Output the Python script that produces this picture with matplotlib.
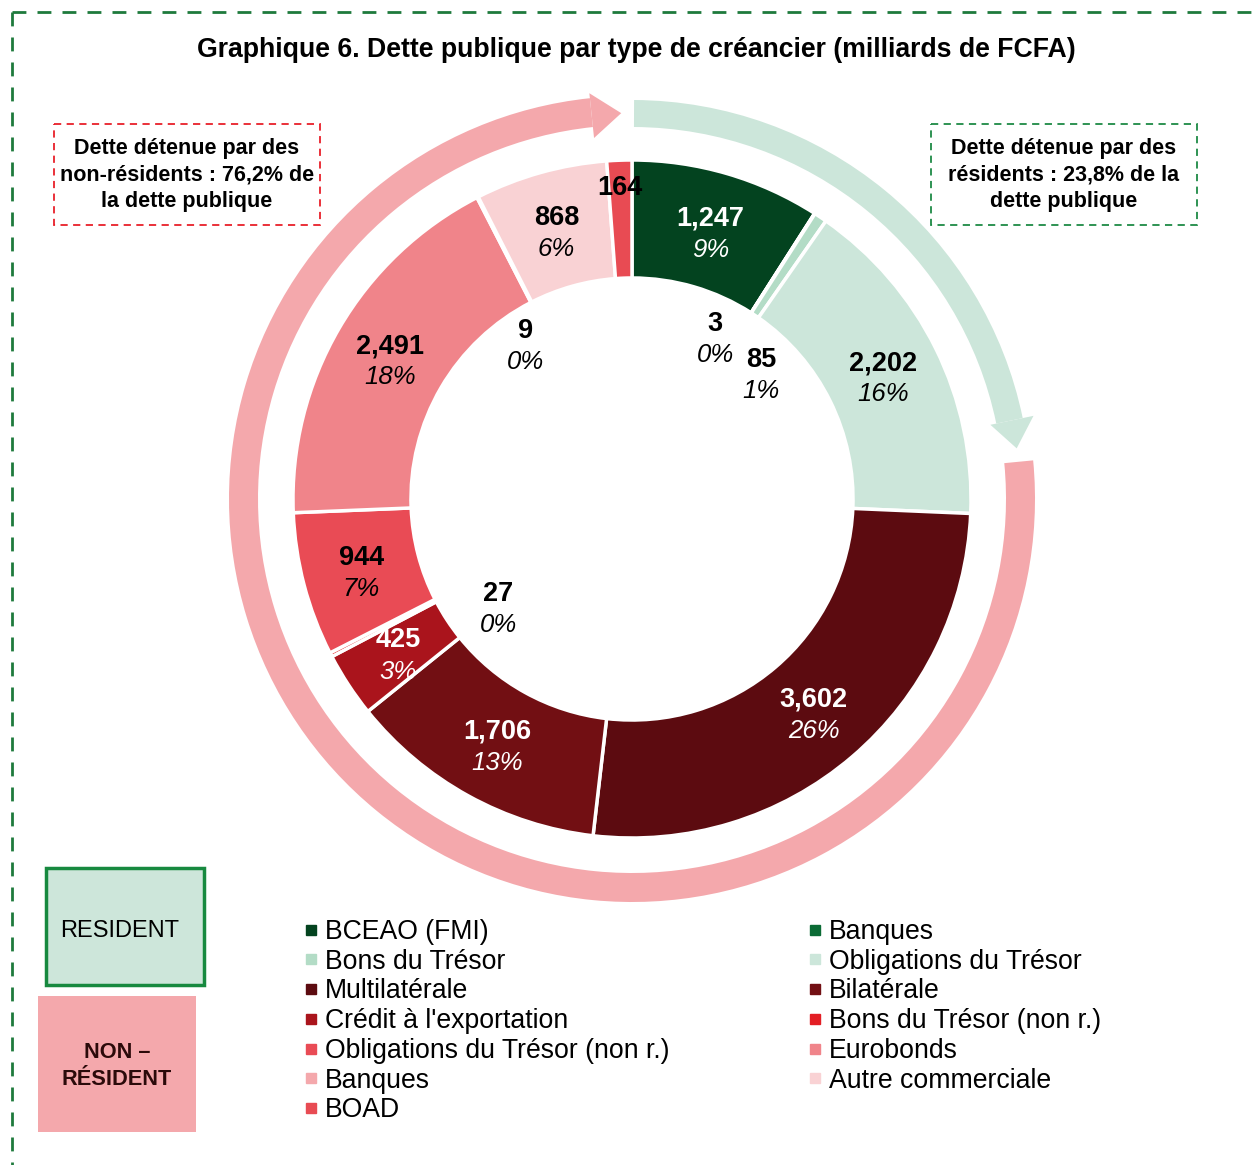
import numpy as np
import matplotlib
matplotlib.use("Agg")
import matplotlib.pyplot as plt
from matplotlib.patches import Wedge, Polygon, Rectangle
from matplotlib.lines import Line2D

plt.rcParams['font.family'] = ['Liberation Sans', 'DejaVu Sans']

# data, clockwise from 12 o'clock
categories = ['BCEAO (FMI)', 'Banques', 'Bons du Trésor', 'Obligations du Trésor',
              'Multilatérale', 'Bilatérale', "Crédit à l'exportation",
              'Bons du Trésor (non r.)', 'Obligations du Trésor (non r.)',
              'Eurobonds', 'Banques', 'Autre commerciale', 'BOAD']
values = [1247, 3, 85, 2202, 3602, 1706, 425, 27, 944, 2491, 9, 868, 164]
value_labels = ['1,247', '3', '85', '2,202', '3,602', '1,706', '425', '27',
                '944', '2,491', '9', '868', '164']
pct_labels = ['9%', '0%', '1%', '16%', '26%', '13%', '3%', '0%', '7%', '18%',
              '0%', '6%', '']

colors = ['#03431F', '#0B6B35', '#B3DCC6', '#CCE6DA', '#5C0B10', '#720F13',
          '#AA141C', '#E31E24', '#E94B55', '#F0848A', '#F4A8AC', '#F9D2D4',
          '#E84B53']
text_colors = ['white', 'black', 'black', 'black', 'white', 'white', 'white',
               'black', 'black', 'black', 'black', 'black', 'black']
# small slices get their labels moved (radius, clockwise angle in deg)
label_override = {1: (0.54, 27), 2: (0.534, 45.4), 7: (0.505, 231.4),
                  10: (0.557, 325.8), 12: (0.93, 357.8)}

W, H = 1255, 1165
fig = plt.figure(figsize=(W / 100, H / 100), dpi=100)

# background axes in pixel coords
bg = fig.add_axes([0, 0, 1, 1])
bg.set_xlim(0, W)
bg.set_ylim(H, 0)
bg.axis('off')

green_dash = '#1E7A3C'
bg.plot([12, W], [12, 12], color=green_dash, lw=2, ls=(0, (5, 4)))
bg.plot([12, 12], [12, H], color=green_dash, lw=2, ls=(0, (5, 4)))

bg.text(636, 50, 'Graphique 6. Dette publique par type de créancier (milliards de FCFA)',
        ha='center', va='center', fontsize=19.2, fontweight='bold')

bg.add_patch(Rectangle((54, 124), 266, 101, fill=False, ec='#E8202A', lw=1.3, ls=(0, (4, 3))))
bg.text(187, 175, 'Dette détenue par des\nnon-résidents : 76,2% de\nla dette publique',
        ha='center', va='center', fontsize=15.5, fontweight='bold', linespacing=1.32)
bg.add_patch(Rectangle((931, 124), 266, 101, fill=False, ec='#1E8A45', lw=1.3, ls=(0, (4, 3))))
bg.text(1064, 175, 'Dette détenue par des\nrésidents : 23,8% de la\ndette publique',
        ha='center', va='center', fontsize=15.5, fontweight='bold', linespacing=1.32)

bg.add_patch(Rectangle((46, 868), 158, 117, fc='#CDE6DA', ec='#17893F', lw=2.5))
bg.text(120, 931, 'RESIDENT', ha='center', va='center', fontsize=17)
bg.add_patch(Rectangle((38, 996), 158, 136, fc='#F4A8AC', ec='none'))
bg.text(117, 1066, 'NON –\nRÉSIDENT', ha='center', va='center', fontsize=15.7,
        fontweight='bold', color='#2B0A0A', linespacing=1.35)

# donut axes: 1 unit = S px
S = 339.0
cx, cy = 632, 499
L = 1.25
ax = fig.add_axes([(cx - L * S) / W, 1 - (cy + L * S) / H, 2 * L * S / W, 2 * L * S / H])
ax.axis('off')
ax.patch.set_alpha(0)

ax.pie(values, colors=colors, startangle=90, counterclock=False, radius=1,
       wedgeprops=dict(width=0.348, edgecolor='white', linewidth=2.5))
ax.set_xlim(-L, L)
ax.set_ylim(-L, L)
ax.set_aspect('auto')

total = sum(values)
cum = np.cumsum([0] + values)
for i in range(len(values)):
    mid = (cum[i] + cum[i + 1]) / 2 / total * 360
    r = 0.825
    if i in label_override:
        r, mid = label_override[i]
    x = r * np.sin(np.radians(mid))
    y = r * np.cos(np.radians(mid)) - 0.011
    d = 0.046 if pct_labels[i] else 0
    ax.text(x, y + d, value_labels[i], ha='center', va='center', fontsize=19.5,
            fontweight='bold', color=text_colors[i])
    if pct_labels[i]:
        ax.text(x, y - d, pct_labels[i], ha='center', va='center', fontsize=18.5,
                fontstyle='italic', color=text_colors[i])


def pol(r, a):
    a = np.radians(a)
    return (r * np.cos(a), r * np.sin(a))


# curved arrows around the donut (non-resident pink, resident green)
pink = '#F4A8AC'
ax.add_patch(Wedge((0, 0), 403 / S, 96.0, 365.5, width=29 / S, fc=pink, ec='none'))
ax.add_patch(Polygon([pol(408 / S, 96.0), pol(386 / S, 91.6), pol(363 / S, 96.0)],
                     fc=pink, ec='none'))
lgreen = '#CCE6DA'
ax.add_patch(Wedge((0, 0), 399 / S, 11.7, 89.7, width=27 / S, fc=lgreen, ec='none'))
ax.add_patch(Polygon([pol(410 / S, 11.7), pol(388 / S, 7.5), pol(366 / S, 11.7)],
                     fc=lgreen, ec='none'))

# legend, filled row-wise in two columns
handles = [Line2D([], [], marker='s', ls='', markersize=7.5, color=c) for c in colors]
left = list(range(0, 13, 2))
right = list(range(1, 13, 2))
kw = dict(loc='upper left', frameon=False, fontsize=19.2, borderpad=0, borderaxespad=0,
          handlelength=0.5, handletextpad=0.3, labelspacing=0.14)
fig.legend([handles[i] for i in left], [categories[i] for i in left],
           bbox_to_anchor=(304 / W, 1 - 919 / H), **kw)
fig.legend([handles[i] for i in right], [categories[i] for i in right],
           bbox_to_anchor=(808 / W, 1 - 919 / H), **kw)

fig.savefig('out.png', dpi=100)
